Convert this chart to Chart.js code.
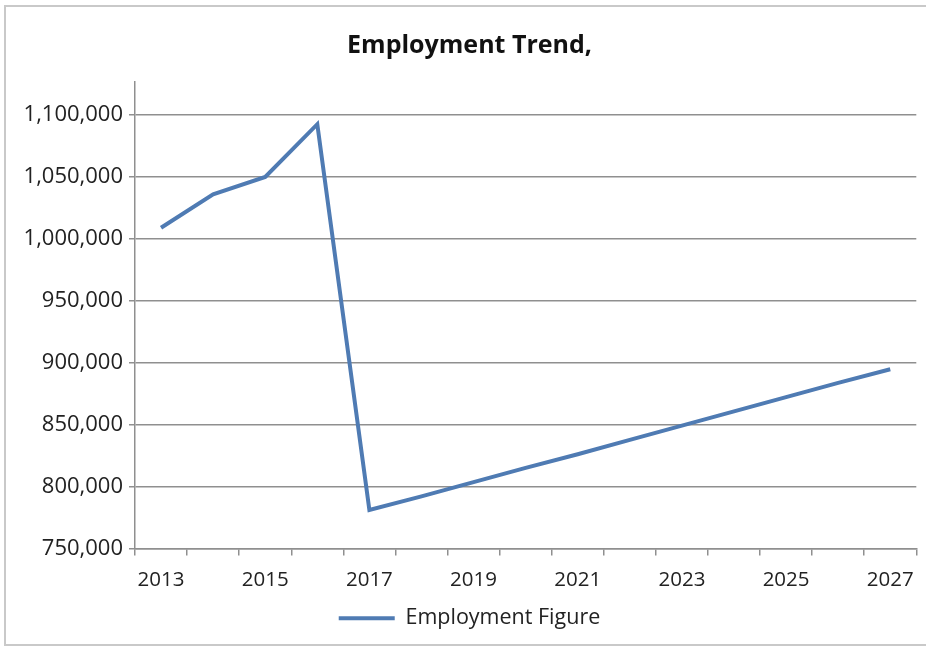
<!DOCTYPE html>
<html>
<head>
<meta charset="utf-8">
<script src="https://cdn.jsdelivr.net/npm/chart.js@4/dist/chart.umd.min.js"></script>
<style>
    html, body { margin: 0; padding: 0; background: #fff; }
    #wrap { position: relative; width: 926px; height: 654px; overflow: hidden; }
    #frame {
        position: absolute; left: 4px; top: 5px; width: 940px; height: 641px;
        border: 2px solid #c9c9c9; box-sizing: border-box;
    }
    #trendChart { position: absolute; left: 0; top: 0; }
</style>
</head>
<body>
<div id="wrap">
    <div id="frame"></div>
    <canvas id="trendChart" width="926" height="654"></canvas>
</div>
<script>
(function(){
    "use strict";

    // yearly employment figures
    const years = ['2013', '2014', '2015', '2016', '2017', '2018', '2019', '2020',
                   '2021', '2022', '2023', '2024', '2025', '2026', '2027'];
    const employment = [1008500, 1035500, 1049500, 1092000, 781000, 792000, 803500, 815000,
                        826000, 837500, 849000, 860500, 872000, 883500, 894500];

    // value axis: labelled ticks, plus a little headroom above the top one
    const yTicks = [750000, 800000, 850000, 900000, 950000, 1000000, 1050000, 1100000];
    const yMax = 1126000;

    const lineColor = '#4f7bb3';
    const gridColor = '#8f8f8f';
    const fontFamily = '"Open Sans", sans-serif';

    function createChart() {
        const ctx = document.getElementById('trendChart').getContext('2d');
        new Chart(ctx, {
            type: 'line',
            data: {
                labels: years,
                datasets: [{
                    label: 'Employment Figure',
                    data: employment,
                    borderColor: lineColor,
                    backgroundColor: lineColor,
                    borderWidth: 4,
                    pointRadius: 0,
                    tension: 0,
                    fill: false,
                }]
            },
            options: {
                responsive: false,
                animation: false,
                layout: {
                    padding: { left: 22, right: 9, top: 0, bottom: 15 }
                },
                scales: {
                    x: {
                        offset: true,
                        afterFit: (scale) => { scale.height = 53; },
                        grid: {
                            offset: true,
                            drawOnChartArea: false,
                            color: gridColor,
                            lineWidth: 1.5,
                            tickLength: 7,
                        },
                        border: { color: gridColor, width: 1.5 },
                        ticks: {
                            autoSkip: false,
                            maxRotation: 0,
                            padding: 12,
                            color: '#222',
                            font: { family: fontFamily, size: 20.5 },
                            callback: function(value, index) {
                                return index % 2 === 0 ? this.getLabelForValue(value) : '';
                            }
                        }
                    },
                    y: {
                        min: yTicks[0],
                        max: yMax,
                        afterBuildTicks: (scale) => {
                            scale.ticks = yTicks.map(v => ({ value: v }));
                        },
                        afterFit: (scale) => { scale.width = 113; },
                        grid: {
                            color: gridColor,
                            lineWidth: 1.5,
                            tickLength: 6,
                        },
                        border: { color: gridColor, width: 1.5 },
                        ticks: {
                            padding: 6,
                            color: '#222',
                            font: { family: fontFamily, size: 22 },
                            callback: (value) => value.toLocaleString('en-US'),
                        }
                    }
                },
                plugins: {
                    title: {
                        display: true,
                        text: 'Employment Trend,',
                        color: '#111',
                        font: { family: fontFamily, size: 25, weight: 'bold' },
                        padding: { top: 31, bottom: 21 },
                    },
                    legend: {
                        position: 'bottom',
                        labels: {
                            color: '#222',
                            font: { family: fontFamily, size: 21.5 },
                            boxWidth: 56,
                            boxHeight: 4,
                            padding: 6,
                            generateLabels: (chart) => {
                                const items = Chart.defaults.plugins.legend.labels.generateLabels(chart);
                                items.forEach(item => {
                                    item.lineWidth = 0;
                                    item.fillStyle = lineColor;
                                });
                                return items;
                            }
                        }
                    },
                    tooltip: { enabled: false }
                }
            }
        });
    }

    createChart();
})();
</script>
</body>
</html>
